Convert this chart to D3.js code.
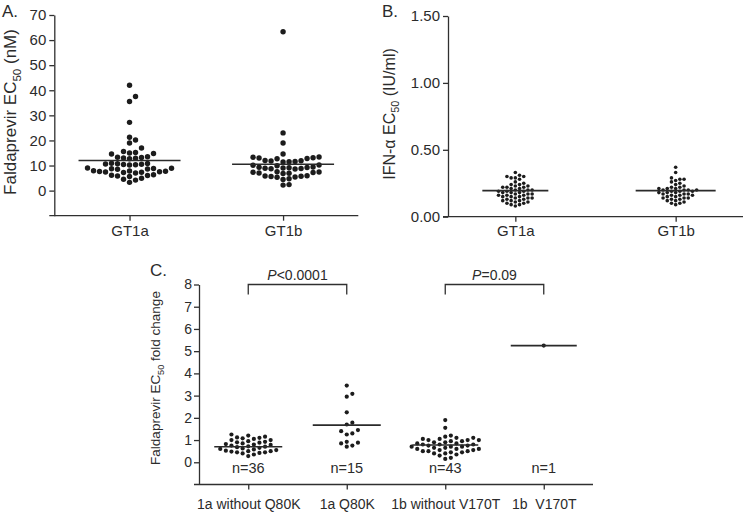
<!DOCTYPE html>
<html>
<head>
<meta charset="utf-8">
<script src="https://cdn.jsdelivr.net/npm/d3@7/dist/d3.min.js"></script>
<style>
  html, body { margin: 0; padding: 0; background: #fff; }
  svg { display: block; font-family: "Liberation Sans", Arial, Helvetica, sans-serif; }
  text { fill: #2b2b2b; }
</style>
</head>
<body>
<svg id="chart" width="750" height="513"></svg>
<script>
// ---------------- DATA ----------------
// Panel A: Faldaprevir EC50 (nM)
const panelACategories = ["GT1a", "GT1b"];
const panelAGT1a = [42, 37.5, 35.5, 27.2, 21.3, 20.2, 19.0, 17.0,
  15.6, 15.2, 14.8, 15.0, 14.6,
  13.5, 13.2, 12.9, 13.3, 12.7, 13.0,
  10.9, 10.6, 10.4, 10.7, 10.2, 10.5, 10.3, 10.8,
  9.0, 8.8, 8.6, 8.9, 8.5, 8.7,
  7.9, 7.7, 7.5, 7.3, 7.6, 7.2, 7.0, 7.4, 7.8,
  6.3, 6.0, 5.8, 6.1, 5.6,
  4.9, 4.5, 4.2, 3.3];
const panelAGT1b = [63.3, 23.0, 19.0, 14.6,
  13.3, 13.0, 12.7, 13.1, 12.8, 13.4,
  11.9, 11.6, 11.4, 11.8, 12.0, 11.5,
  10.2, 9.9, 10.1,
  9.2, 9.0, 8.8, 9.1, 8.7, 9.3, 8.9, 9.4, 8.6,
  7.4, 7.2, 7.0, 7.3, 6.9, 7.5, 6.8,
  5.8, 5.6, 5.4, 5.7, 5.3, 5.9,
  4.7, 4.4,
  2.4, 2.2];
const panelACenterLines = [12.0, 10.5];
const panelATicks = [0, 10, 20, 30, 40, 50, 60, 70];

// Panel B: IFN-alpha EC50 (IU/ml)
const panelBCategories = ["GT1a", "GT1b"];
const panelBGT1a = [0.33, 0.31, 0.30, 0.30, 0.29, 0.29, 0.28, 0.26, 0.25, 0.24,
  0.24, 0.23, 0.23, 0.22, 0.22, 0.22, 0.21, 0.21, 0.20, 0.20,
  0.20, 0.19, 0.19, 0.19, 0.18, 0.18, 0.18, 0.17, 0.17, 0.17,
  0.16, 0.16, 0.16, 0.15, 0.15, 0.15, 0.14, 0.14, 0.14, 0.13,
  0.13, 0.12, 0.12, 0.12, 0.11, 0.11, 0.10, 0.10, 0.09, 0.09, 0.08];
const panelBGT1b = [0.37, 0.33, 0.29, 0.28, 0.28, 0.27, 0.26, 0.25, 0.24, 0.23,
  0.22, 0.22, 0.21, 0.21, 0.21, 0.20, 0.20, 0.20, 0.20, 0.19,
  0.19, 0.19, 0.18, 0.18, 0.18, 0.17, 0.17, 0.17, 0.16, 0.16,
  0.16, 0.15, 0.15, 0.14, 0.14, 0.14, 0.13, 0.13, 0.12, 0.12,
  0.11, 0.10, 0.10, 0.09];
const panelBCenterLines = [0.195, 0.195];
const panelBTicks = [0, 0.5, 1.0, 1.5];

// Panel C: Faldaprevir EC50 fold change
const panelCCategories = ["1a without Q80K", "1a Q80K", "1b without V170T", "1b  V170T"];
const panelCGroup1 = [1.25, 1.2, 1.15, 1.12, 1.1, 1.08, 1.05, 1.0, 1.0, 0.95,
  0.92, 0.9, 0.88, 0.85, 0.82, 0.8, 0.78, 0.75, 0.72, 0.7,
  0.68, 0.65, 0.62, 0.6, 0.58, 0.55, 0.52, 0.5, 0.5, 0.48,
  0.45, 0.45, 0.42, 0.4, 0.35, 0.28];
const panelCGroup2 = [3.45, 3.08, 2.95, 2.25, 1.78, 1.7, 1.45, 1.4, 1.3, 1.25, 0.92, 0.88, 0.85, 0.75, 0.7];
const panelCGroup3 = [1.9, 1.55, 1.2, 1.15, 1.1, 1.1, 1.05, 1.05, 1.0, 1.0,
  1.0, 0.95, 0.95, 0.9, 0.9, 0.85, 0.85, 0.8, 0.8, 0.8,
  0.75, 0.75, 0.7, 0.7, 0.7, 0.65, 0.65, 0.6, 0.6, 0.6,
  0.55, 0.55, 0.5, 0.5, 0.5, 0.45, 0.45, 0.4, 0.4, 0.35,
  0.3, 0.2, 0.15];
const panelCGroup4 = [5.25];
const panelCCenterLines = [0.7, 1.67, 0.78, 5.25];
const panelCNLabels = ["n=36", "n=15", "n=43", "n=1"];
const panelCTicks = [0, 1, 2, 3, 4, 5, 6, 7, 8];
const panelCComparisons = [
  { from: 0, to: 1, p: "<0.0001" },
  { from: 2, to: 3, p: "=0.09" }
];

// ---------------- DRAWING ----------------
const svg = d3.select("#chart");
const INK = "#1c1c1c";
const AXIS = "#303030";

function swarm(values, yScale, cx, colSpacing, minDy) {
  const pts = values.map(v => ({ v, y: yScale(v) })).sort((a, b) => a.v - b.v);
  const cols = new Map();
  const order = [0];
  for (let k = 1; k < 60; k++) order.push(k, -k);
  pts.forEach(p => {
    for (const k of order) {
      const arr = cols.get(k) || [];
      if (arr.every(y => Math.abs(y - p.y) >= minDy)) {
        arr.push(p.y); cols.set(k, arr);
        p.x = cx + k * colSpacing;
        break;
      }
    }
  });
  return pts;
}

function yTitle(g, x, y, size, parts) {
  const t = g.append("text")
    .attr("transform", `translate(${x},${y}) rotate(-90)`)
    .attr("text-anchor", "middle")
    .attr("font-size", size);
  t.append("tspan").text(parts[0]);
  t.append("tspan").attr("font-size", size * 0.68).attr("dy", size * 0.28).text("50");
  t.append("tspan").attr("dy", -size * 0.28).text(parts[1]);
}

function panel(opts) {
  const g = svg.append("g");
  const y = d3.scaleLinear().domain(opts.yDomain).range([opts.yBottom, opts.yTop]);
  const x = d3.scalePoint().domain(opts.categories).range([opts.xLeft, opts.xRight]).padding(opts.padding);

  // y axis
  const yAx = g.append("g").attr("transform", `translate(${opts.xLeft},0)`)
    .call(d3.axisLeft(y).tickValues(opts.ticks).tickSize(5).tickSizeOuter(0).tickPadding(opts.tickPad).tickFormat(opts.fmt));
  yAx.select(".domain").attr("stroke", AXIS).attr("stroke-width", 1.3);
  yAx.selectAll(".tick line").attr("stroke", AXIS).attr("stroke-width", 1.3);
  yAx.selectAll(".tick text").attr("font-size", opts.tickFont).attr("fill", "#2b2b2b").attr("font-family", null);

  // x axis
  const xAx = g.append("g").attr("transform", `translate(0,${opts.yBottom})`)
    .call(d3.axisBottom(x).tickSize(5).tickSizeOuter(0));
  xAx.select(".domain").remove();
  xAx.selectAll(".tick line").attr("stroke", AXIS).attr("stroke-width", 1.3);
  xAx.selectAll(".tick text").attr("font-size", opts.xFont).attr("fill", "#2b2b2b")
    .attr("font-family", null).attr("dy", null).attr("y", opts.xLabelOffset)
    .style("white-space", "pre");
  g.append("line")
    .attr("x1", opts.xLeft - 5).attr("x2", opts.xRight)
    .attr("y1", opts.yBottom).attr("y2", opts.yBottom)
    .attr("stroke", AXIS).attr("stroke-width", 1.3);

  // dots and centre lines
  opts.groups.forEach((vals, i) => {
    const cx = x(opts.categories[i]);
    const pts = swarm(vals, y, cx, opts.colSpacing, opts.minDy);
    g.append("g").selectAll("circle").data(pts).join("circle")
      .attr("cx", d => d.x).attr("cy", d => d.y).attr("r", opts.r).attr("fill", INK);
    const hw = opts.lineHalf[i];
    g.append("line")
      .attr("x1", cx - hw).attr("x2", cx + hw)
      .attr("y1", y(opts.centers[i])).attr("y2", y(opts.centers[i]))
      .attr("stroke", "#2a2a2a").attr("stroke-width", 1.6);
  });
  return { g, x, y };
}

// Panel A
const A = panel({
  categories: panelACategories, groups: [panelAGT1a, panelAGT1b], centers: panelACenterLines,
  yDomain: [-10, 70], yTop: 15, yBottom: 215.7, xLeft: 54.3, xRight: 358.3, padding: 0.49,
  ticks: panelATicks, fmt: d3.format("d"), tickFont: 15, tickPad: 3, xFont: 15, xLabelOffset: 20.5,
  r: 2.7, colSpacing: 6, minDy: 5.4, lineHalf: [51, 51]
});
A.g.append("text").attr("x", 2).attr("y", 17).attr("font-size", 17).text("A.");
yTitle(A.g, 16, 112, 17, ["Faldaprevir EC", " (nM)"]);

// Panel B
const B = panel({
  categories: panelBCategories, groups: [panelBGT1a, panelBGT1b], centers: panelBCenterLines,
  yDomain: [0, 1.5], yTop: 16, yBottom: 216.7, xLeft: 448, xRight: 743, padding: 0.42,
  ticks: panelBTicks, fmt: d3.format(".2f"), tickFont: 15, tickPad: 3, xFont: 15, xLabelOffset: 19.5,
  r: 1.8, colSpacing: 4.2, minDy: 3.7, lineHalf: [33, 40]
});
B.g.append("text").attr("x", 382).attr("y", 17).attr("font-size", 17).text("B.");
B.g.append("g"); 
(function () {
  const t = B.g.append("text")
    .attr("transform", "translate(395,114) rotate(-90)")
    .attr("text-anchor", "middle").attr("font-size", 16);
  t.append("tspan").text("IFN-α EC");
  t.append("tspan").attr("font-size", 16 * 0.68).attr("dy", 16 * 0.28).text("50");
  t.append("tspan").attr("dy", -16 * 0.28).text(" (IU/ml)");
})();

// Panel C
const C = panel({
  categories: panelCCategories, groups: [panelCGroup1, panelCGroup2, panelCGroup3, panelCGroup4], centers: panelCCenterLines,
  yDomain: [-1, 8], yTop: 284.5, yBottom: 484.5, xLeft: 199, xRight: 593, padding: 0.5,
  ticks: panelCTicks, fmt: d3.format("d"), tickFont: 14, tickPad: 2, xFont: 14, xLabelOffset: 24.5,
  r: 2.1, colSpacing: 5.6, minDy: 4.6, lineHalf: [34, 34, 33, 33]
});
C.g.append("text").attr("x", 150).attr("y", 276).attr("font-size", 17).text("C.");
yTitle(C.g, 160, 378, 13.5, ["Faldaprevir EC", " fold change"]);

// n labels
panelCCategories.forEach((c, i) => {
  C.g.append("text").attr("x", C.x(c)).attr("y", 472.5).attr("text-anchor", "middle")
    .attr("font-size", 14.5).text(panelCNLabels[i]);
});

// significance brackets
panelCComparisons.forEach(cmp => {
  const x1 = C.x(panelCCategories[cmp.from]);
  const x2 = C.x(panelCCategories[cmp.to]);
  const yTop = C.y(8);
  C.g.append("path")
    .attr("d", `M${x1},${yTop + 10}V${yTop}H${x2}V${yTop + 10}`)
    .attr("fill", "none").attr("stroke", AXIS).attr("stroke-width", 1.3);
  const t = C.g.append("text").attr("x", (x1 + x2) / 2).attr("y", yTop - 4.5)
    .attr("text-anchor", "middle").attr("font-size", 14);
  t.append("tspan").attr("font-style", "italic").text("P");
  t.append("tspan").text(cmp.p);
});
</script>
</body>
</html>
